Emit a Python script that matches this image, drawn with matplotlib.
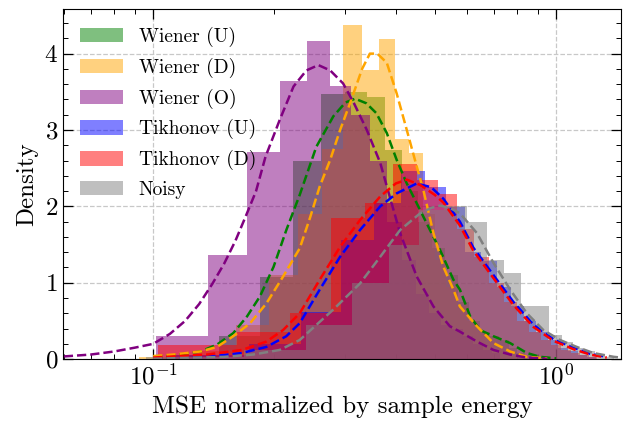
import numpy as np
import matplotlib
matplotlib.use('Agg')
from matplotlib import pyplot as plt

# histogram bins: first edge, bin width, heights (density)
labels = ['Wiener (U)', 'Wiener (D)', 'Wiener (O)', 'Tikhonov (U)', 'Tikhonov (D)', 'Noisy']
colors = ['green', 'orange', 'purple', 'blue', 'red', 'gray']

wu_start, wu_width = 0.1074, 0.0385
wu_hist = [0.05, 0.3, 1.07, 2.59, 3.47, 3.5, 3.43, 2.74, 2.2, 1.8, 1.45, 1.1, 0.75, 0.5,
           0.35, 0.3, 0.25, 0.15, 0.08, 0.05]
wd_start, wd_width = 0.0923, 0.034
wd_hist = [0.03, 0.1, 0.45, 1.1, 1.9, 2.75, 4.37, 3.79, 4.19, 2.88, 2.70, 1.9, 1.3, 0.95,
           0.7, 0.5, 0.35, 0.22, 0.15, 0.1, 0.05]
wo_start, wo_width = 0.1019, 0.0347
wo_hist = [0.30, 1.36, 2.71, 3.64, 4.16, 3.57, 3.2, 2.6, 1.8, 1.3, 0.85, 0.6, 0.45, 0.4,
           0.3, 0.2, 0.12, 0.08]
tu_start, tu_width = 0.1127, 0.06
tu_hist = [0.05, 0.2, 0.62, 1.56, 2.05, 2.46, 2.26, 1.99, 1.4, 1.28, 0.95, 0.7, 0.5, 0.35,
           0.25, 0.15, 0.1, 0.06, 0.03]
td_start, td_width = 0.103, 0.058
td_hist = [0.19, 0.36, 0.6, 1.85, 2.05, 2.55, 2.35, 2.16, 1.7, 1.34, 1.0, 0.75, 0.5, 0.35,
           0.25, 0.18, 0.12, 0.08, 0.05, 0.03]
no_start, no_width = 0.096, 0.072
no_hist = [0.03, 0.12, 0.45, 1.0, 1.5, 1.95, 2.0, 1.80, 1.3, 1.13, 0.7, 0.7, 0.32, 0.22,
           0.15, 0.1, 0.06, 0.03]

# density curves
wu_x = [0.1, 0.112, 0.131, 0.144, 0.158, 0.171, 0.184, 0.199, 0.214, 0.231, 0.254, 0.28,
        0.3, 0.317, 0.338, 0.358, 0.38, 0.402, 0.426, 0.45, 0.477, 0.515, 0.556, 0.577,
        0.612, 0.648, 0.699, 0.769, 0.846, 0.913, 1.0]
wu_y = [0.03, 0.05, 0.1, 0.19, 0.34, 0.56, 0.82, 1.21, 1.69, 2.15, 2.78, 3.18,
        3.36, 3.41, 3.35, 3.22, 2.96, 2.61, 2.3, 2.05, 1.78, 1.43, 1.04, 0.91,
        0.56, 0.38, 0.30, 0.21, 0.08, 0.03, 0.01]
wd_x = [0.1, 0.112, 0.131, 0.144, 0.158, 0.174, 0.191, 0.21, 0.231, 0.245, 0.259, 0.275,
        0.291, 0.308, 0.33, 0.345, 0.36, 0.38, 0.402, 0.426, 0.451, 0.468, 0.496, 0.525,
        0.556, 0.577, 0.636, 0.699, 0.769, 0.846, 0.95]
wd_y = [0.04, 0.06, 0.1, 0.16, 0.30, 0.47, 0.73, 1.08, 1.45, 1.85, 2.26, 2.61,
        3.0, 3.35, 3.8, 4.0, 4.0, 3.88, 3.48, 3.0, 2.52, 2.22, 1.65, 1.21,
        0.91, 0.69, 0.43, 0.21, 0.10, 0.03, 0.01]
wo_x = [0.06, 0.07, 0.08, 0.09, 0.1, 0.11, 0.12, 0.13, 0.14, 0.15, 0.16, 0.17, 0.18, 0.19,
        0.206, 0.223, 0.24, 0.257, 0.275, 0.296, 0.315, 0.339, 0.366, 0.383, 0.41, 0.451,
        0.496, 0.545, 0.577, 0.636, 0.699, 0.769, 0.846, 0.95]
wo_y = [0.035, 0.06, 0.1, 0.15, 0.2, 0.33, 0.5, 0.72, 0.98, 1.25, 1.55, 1.88, 2.2, 2.65,
        3.13, 3.57, 3.78, 3.85, 3.78, 3.61, 3.35, 3.0, 2.57, 2.2, 1.65, 1.08,
        0.69, 0.43, 0.36, 0.23, 0.12, 0.06, 0.02, 0.005]
tu_x = [0.1, 0.136, 0.166, 0.191, 0.214, 0.231, 0.259, 0.291, 0.326, 0.366, 0.402, 0.451,
        0.49, 0.525, 0.577, 0.623, 0.699, 0.783, 0.879, 0.985, 1.104, 1.214, 1.336]
tu_y = [0.01, 0.03, 0.08, 0.16, 0.30, 0.47, 0.91, 1.34, 1.69, 2.0, 2.17, 2.30,
        2.25, 2.1, 1.8, 1.46, 1.1, 0.75, 0.45, 0.26, 0.15, 0.07, 0.03]
td_x = [0.1, 0.136, 0.166, 0.191, 0.21, 0.231, 0.259, 0.291, 0.326, 0.366, 0.4, 0.426,
        0.46, 0.5, 0.525, 0.577, 0.623, 0.699, 0.783, 0.879, 0.985, 1.104, 1.214, 1.336]
td_y = [0.02, 0.06, 0.12, 0.23, 0.38, 0.60, 1.04, 1.47, 1.82, 2.13, 2.3, 2.35,
        2.28, 2.15, 2.05, 1.75, 1.42, 1.06, 0.71, 0.42, 0.24, 0.13, 0.06, 0.02]
no_x = [0.1, 0.15, 0.177, 0.206, 0.231, 0.28, 0.326, 0.366, 0.41, 0.46, 0.49, 0.515,
        0.545, 0.577, 0.636, 0.699, 0.769, 0.846, 0.93, 1.023, 1.125, 1.237, 1.39, 1.45]
no_y = [0.005, 0.03, 0.06, 0.12, 0.25, 0.65, 0.99, 1.34, 1.69, 1.91, 1.98, 2.01,
        1.98, 1.91, 1.65, 1.26, 0.91, 0.60, 0.38, 0.25, 0.16, 0.08, 0.03, 0.02]

hists = [(wu_start, wu_width, wu_hist), (wd_start, wd_width, wd_hist),
         (wo_start, wo_width, wo_hist), (tu_start, tu_width, tu_hist),
         (td_start, td_width, td_hist), (no_start, no_width, no_hist)]
curves = [(wu_x, wu_y), (wd_x, wd_y), (wo_x, wo_y), (tu_x, tu_y), (td_x, td_y), (no_x, no_y)]

plt.rcParams['font.family'] = 'serif'
plt.rcParams['font.serif'] = ['cmr10']
plt.rcParams['mathtext.fontset'] = 'cm'
plt.rcParams['axes.formatter.use_mathtext'] = True
plt.rcParams['axes.unicode_minus'] = False
plt.rcParams['xtick.direction'] = 'in'
plt.rcParams['ytick.direction'] = 'in'
plt.rcParams['xtick.top'] = True
plt.rcParams['ytick.right'] = True
plt.rcParams['xtick.minor.visible'] = True
plt.rcParams['ytick.minor.visible'] = True

fig = plt.figure(figsize=(6.23, 4.24), dpi=100)
ax = fig.add_axes([0.101, 0.153, 0.896, 0.825])

for (start, width, h), c, lab in zip(hists, colors, labels):
    edges = start + width * np.arange(len(h) + 1)
    ax.stairs(h, edges, fill=True, color=c, alpha=0.5, label=lab, linewidth=0)

for (cx, cy), c in zip(curves, colors):
    ax.plot(cx, cy, '--', color=c, linewidth=1.8)

ax.set_xscale('log')
ax.set_xlim(0.0597, 1.45)
ax.set_ylim(0, 4.58)
ax.yaxis.set_minor_locator(matplotlib.ticker.AutoMinorLocator(5))
ax.tick_params(which='major', length=7, width=0.9, labelsize=18)
ax.tick_params(which='minor', length=3.5, width=0.7)
ax.grid(True, which='major', linestyle='--', color='#c8c8c8', linewidth=0.9)
ax.set_axisbelow(True)

ax.set_xlabel('MSE normalized by sample energy', fontsize=18)
ax.set_ylabel('Density', fontsize=18)
ax.legend(loc='upper left', frameon=False, fontsize=14, handlelength=2.2,
          handleheight=0.75, labelspacing=0.55)

fig.savefig('out.png', dpi=100)
